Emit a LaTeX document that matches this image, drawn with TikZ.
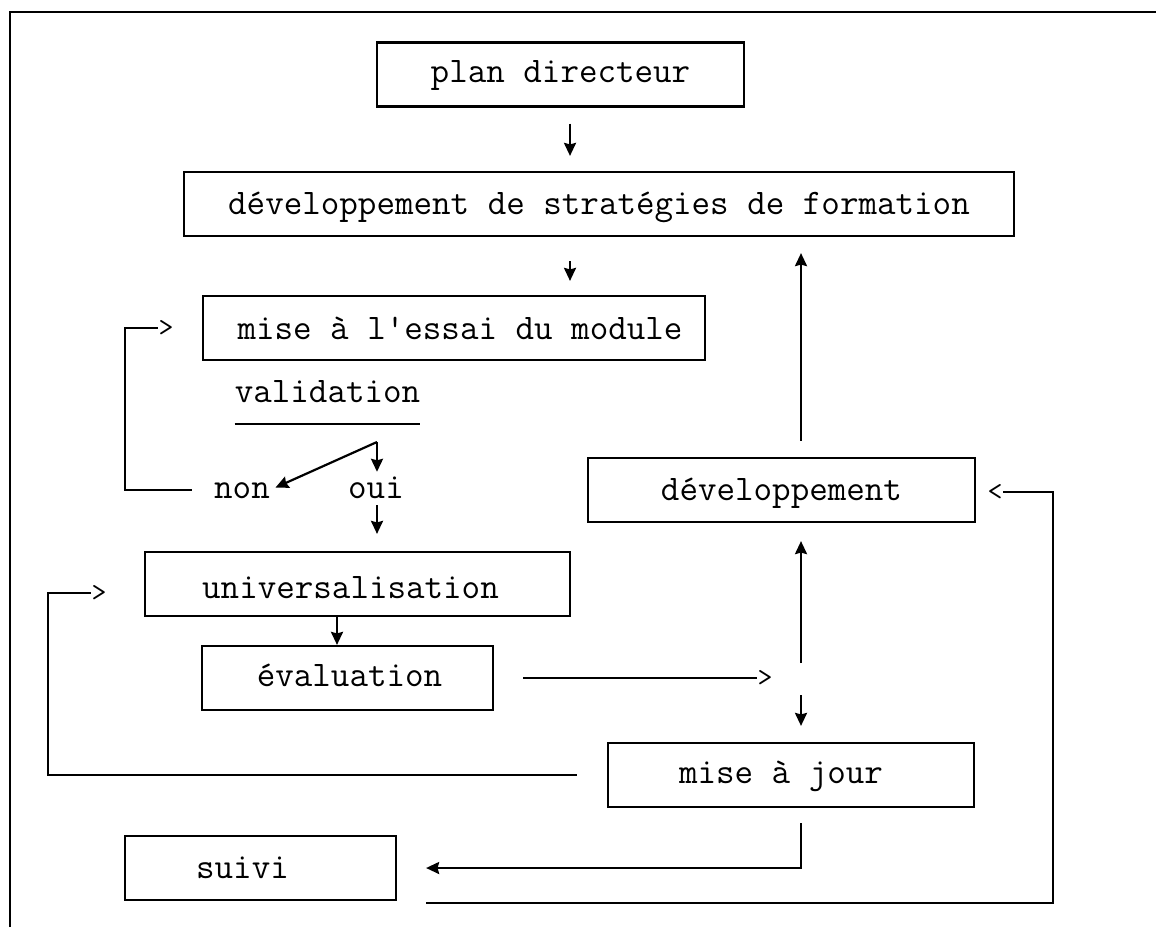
\documentclass[tikz,border=0pt]{standalone}
\usepackage{fontspec}
\newfontfamily\typewfont{Latin Modern Mono}
\usetikzlibrary{arrows.meta}
\begin{document}
\begin{tikzpicture}[x=1pt,y=-1pt,
  txt/.style={font=\typewfont\fontsize{36}{40}\selectfont, inner sep=0pt, text height=22pt, text depth=6pt},
  glyph/.style={font=\typewfont\fontsize{29}{32}\selectfont, inner sep=0pt},
  box/.style={draw, line width=2.2pt, inner sep=0pt, minimum height=64pt},
  wire/.style={line width=2.2pt},
  arr/.style={wire, -{Stealth[length=13pt,width=12pt,inset=1.5pt]}}
]
\useasboundingbox (0,0) rectangle (1156,927);

% outer frame: left and top sides only
\coordinate (fbl) at (10,927);
\coordinate (ftl) at (10,12);
\coordinate (ftr) at (1156,12);
\draw[line width=2.6pt] (fbl) -- (ftl) -- (ftr);

% boxes and their labels
\node[box, minimum width=367pt] (plan) at (560.5,74.5) {};
\node[txt] (plan-t) at (plan) {plan directeur};

\node[box, minimum width=830pt] (strat) at (599,204) {};
\node[txt] (strat-t) at ([yshift=-2pt]strat.center) {développement de stratégies de formation};

\node[box, minimum width=502pt] (essai) at (454,328) {};
\node[txt] (essai-t) at ([xshift=6pt,yshift=-3pt]essai.center) {mise à l'essai du module};

\node[box, minimum width=425pt] (univ) at (357.5,584) {};
\node[txt] (univ-t) at ([xshift=-7pt,yshift=-6pt]univ.center) {universalisation};

\node[box, minimum width=291pt] (eval) at (347.5,678) {};
\node[txt] (eval-t) at ([xshift=2pt]eval.center) {évaluation};

\node[box, minimum width=387pt] (dev) at (781.5,490) {};
\node[txt] (dev-t) at ([yshift=-2pt]dev.center) {développement};

\node[box, minimum width=366pt] (maj) at (791,775) {};
\node[txt] (maj-t) at ([xshift=-10pt]maj.center) {mise à jour};

\node[box, minimum width=271pt] (suivi) at (260.5,868) {};
\node[txt] (suivi-t) at ([xshift=-18pt,yshift=-2pt]suivi.center) {suivi};

% validation with its branches
\node[txt, anchor=base] (valid) at (327.5,402) {validation};
\draw[wire] ([yshift=-22pt]valid.base west) -- ([yshift=-22pt]valid.base east);
\node[txt, anchor=base] (non) at (242,498) {non};
\node[txt, anchor=base] (oui) at (376,498) {oui};
\coordinate (split) at (377,442);
\draw[arr, shorten >=4pt] (split) -- (split |- oui.north);
\draw[arr, shorten >=6pt] (split) -- (non.east);
\draw[arr, shorten <=1pt, shorten >=17pt] (split |- oui.south) -- (univ.north -| split);

% main column
\coordinate (col) at (570,0);
\draw[arr, shorten <=16pt, shorten >=15pt] (plan.south -| col) -- (strat.north -| col);
\draw[arr, shorten <=24pt, shorten >=14pt] (strat.south -| col) -- (essai.north -| col);
\coordinate (cu) at (337,0);
\draw[arr] (univ.south -| cu) -- (eval.north -| cu);

% "non" loops back to the trial
\coordinate (lpA) at (125,0);
\node[glyph] (gtA) at (166,328) {>};
\draw[wire, shorten <=22pt] (non.west) -- (non.west -| lpA) |- (gtA.west);

% update loops back to universalisation
\coordinate (lpB) at (48,0);
\node[glyph] (gtB) at (99,593) {>};
\draw[wire, shorten <=30pt] (maj.west) -- (maj.west -| lpB) |- (gtB.west);

% evaluation feeds the right-hand column
\node[glyph] (gtC) at (765,678) {>};
\draw[wire, shorten <=29pt] (eval.east) -- (gtC.west);
\coordinate (jn) at (801,678);
\draw[arr, shorten <=15pt, shorten >=18pt] (jn) -- (dev.south -| jn);
\draw[arr, shorten <=17pt, shorten >=16pt] (jn) -- (maj.north -| jn);
\draw[arr, shorten <=16pt, shorten >=16pt] (dev.north -| jn) -- (strat.south -| jn);

% update leads to follow-up
\draw[arr, shorten <=15pt, shorten >=29pt] (maj.south -| jn) |- (suivi.east);

% follow-up loops back to development
\coordinate (lpD) at (1053,0);
\coordinate (sd) at ([xshift=29pt,yshift=-2pt]suivi.south east);
\node[glyph] (gtD) at (995,492) {<};
\draw[wire] (sd) -- (sd -| lpD) |- (gtD.east);
\end{tikzpicture}
\end{document}
